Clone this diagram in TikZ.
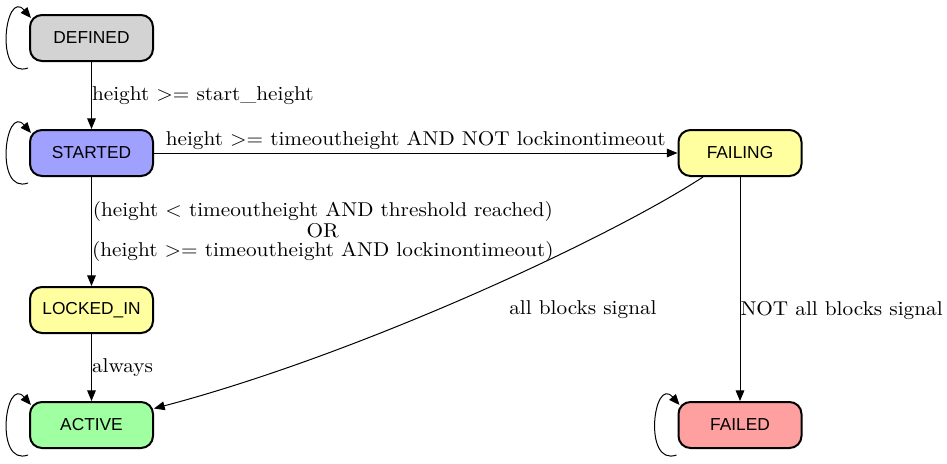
\documentclass[tikz,border=0pt]{standalone}
\usepackage{fontspec}
\newfontfamily\statefont{Liberation Sans}
\newfontfamily\lblfont{lmroman10-regular.otf}[FakeStretch=1.063]
\definecolor{defc}{HTML}{D3D3D3}
\definecolor{startc}{HTML}{A0A0FF}
\definecolor{lockc}{HTML}{FFFFA0}
\definecolor{activec}{HTML}{A0FFA0}
\definecolor{failc}{HTML}{FFA0A0}
\usetikzlibrary{arrows.meta}
\tikzset{state/.style={draw,line width=1.5pt,rounded corners=9pt,minimum width=92.25pt,minimum height=34.5pt,inner sep=0pt,font=\statefont\fontsize{13}{15}\selectfont},
trans/.style={-{Triangle[length=8pt,width=6.5pt]},line width=.75pt},
lbl/.style={inner sep=0pt,font=\lblfont\fontsize{15}{14.2}\selectfont}}
\begin{document}
\begin{tikzpicture}[x=.75pt,y=-.75pt]
\useasboundingbox(0,0)rectangle(947,464);
\node[state,fill=defc](defined)at(91.5,38){DEFINED};
\node[state,fill=startc](started)at(91.5,153){STARTED};
\node[state,fill=lockc](lockedin)at(91.5,310){LOCKED\_IN};
\node[state,fill=activec](active)at(91.5,425){ACTIVE};
\node[state,fill=lockc](failing)at(740,153){FAILING};
\node[state,fill=failc](failed)at(740,425){FAILED};
\draw[trans](defined)--node[lbl,right]{height >= start\_height}(started);
\draw[trans](started)--node[lbl,above,yshift=2.5pt]{height >= timeoutheight AND NOT lockinontimeout}(failing);
\draw[trans](started)--node[lbl,right,align=center]{(height < timeoutheight AND threshold reached)\\OR\\(height >= timeoutheight AND lockinontimeout)}(lockedin);
\draw[trans](lockedin)--node[lbl,right]{always}(active);
\draw[trans](failing)..controls(606,240)and(357,355)..(active);
\node[lbl](allsig)at(583,310){all blocks signal};
\draw[trans](failing)--node[lbl,right,pos=.594]{NOT all blocks signal}(failed);
\foreach \s in {defined,started,active,failed}
  \draw[trans]([shift={(-1,6)}]\s.south west)..controls +(-34,12) and +(-26,-30)..([shift={(2,4)}]\s.north west);
\end{tikzpicture}
\end{document}
